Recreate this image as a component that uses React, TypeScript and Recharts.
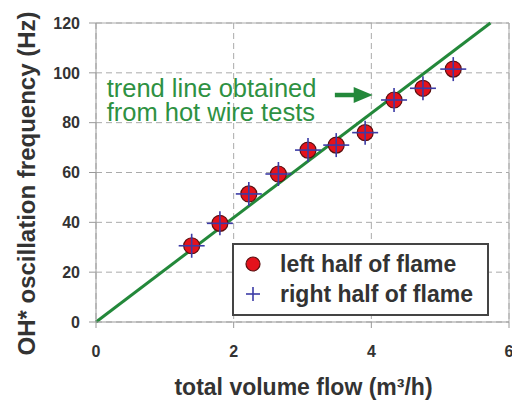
import React from 'react';
import {
    CartesianGrid,
    ReferenceDot,
    ReferenceLine,
    Scatter,
    ScatterChart,
    XAxis,
    YAxis,
} from 'recharts';

// flow in m³/h, frequency in Hz
const flowLeft = [1.39, 1.8, 2.22, 2.65, 3.08, 3.49, 3.91, 4.33, 4.75, 5.19];
const freqLeft = [30.6, 39.6, 51.4, 59.4, 69.0, 71.0, 76.0, 89.1, 93.8, 101.5];
const flowRight = [1.39, 1.8, 2.22, 2.65, 3.08, 3.49, 3.91, 4.33, 4.75, 5.19];
const freqRight = [30.6, 39.6, 51.4, 59.4, 69.0, 71.0, 76.0, 89.1, 93.8, 101.5];

// trend line from hot wire tests
const trendFlow = [0, 5.73];
const trendFreq = [0, 120];

const xTicks = [0, 2, 4, 6];
const yTicks = [0, 20, 40, 60, 80, 100, 120];

const seriesNames = ['left half of flame', 'right half of flame'];

// annotation anchor (data coords)
const noteAt = { x: 0.155, y: 90.3 };
const arrowFrom = { x: 3.47, y: 91.1 };
const arrowTip = { x: 4.02, y: 91.1 };

const leftData = flowLeft.map((x, i) => ({ x, y: freqLeft[i] }));
const rightData = flowRight.map((x, i) => ({ x, y: freqRight[i] }));

const FONT = '"Liberation Sans", Arial, Helvetica, sans-serif';
const TEXT = '#333';
const GREEN = '#23883a';
const RED = '#e4121c';
const BLUE = '#3b3ba6';

const Dot = (props: any) => (
    <circle cx={props.cx} cy={props.cy} r={8} fill={RED} stroke="#5a1010" strokeWidth={1.2} />
);

const Plus = (props: any) => {
    const { cx, cy } = props;
    return (
        <g stroke={BLUE} strokeWidth={1.6}>
            <line x1={cx - 13} y1={cy} x2={cx + 13} y2={cy} />
            <line x1={cx} y1={cy - 12} x2={cx} y2={cy + 12} />
        </g>
    );
};

function LegendBox() {
    return (
        <div
            style={{
                position: 'absolute',
                left: 232,
                top: 243,
                width: 257,
                height: 73,
                boxSizing: 'border-box',
                border: '2px solid #444',
                background: '#fff',
                paddingTop: 4,
            }}
        >
            {seriesNames.map((name, i) => (
                <div key={name} style={{ display: 'flex', alignItems: 'center', height: 30 }}>
                    <svg width={46} height={30} style={{ flex: 'none' }}>
                        {i === 0 ? (
                            <circle cx={19} cy={15} r={7} fill={RED} stroke="#5a1010" strokeWidth={1.2} />
                        ) : (
                            <g stroke={BLUE} strokeWidth={1.6}>
                                <line x1={12} y1={15} x2={26} y2={15} />
                                <line x1={19} y1={8} x2={19} y2={22} />
                            </g>
                        )}
                    </svg>
                    <span style={{ fontFamily: FONT, fontWeight: 'bold', fontSize: 23, color: TEXT, whiteSpace: 'nowrap' }}>
                        {name}
                    </span>
                </div>
            ))}
        </div>
    );
}

const YLabel = (props: any) => {
    const { x, y, height } = props.viewBox;
    const cx = x + 26;
    const cy = y + height / 2 + 11;
    return (
        <text
            x={cx}
            y={cy}
            transform={`rotate(-90 ${cx} ${cy})`}
            textAnchor="middle"
            dominantBaseline="central"
            fontFamily={FONT}
            fontWeight="bold"
            fontSize={24}
            fill={TEXT}
        >
            OH* oscillation frequency (Hz)
        </text>
    );
};

const XLabel = (props: any) => {
    const { x, y, width } = props.viewBox;
    return (
        <text
            x={x + width / 2 + 1}
            y={y + 73}
            textAnchor="middle"
            fontFamily={FONT}
            fontWeight="bold"
            fontSize={23}
            fill={TEXT}
        >
            total volume flow (m³/h)
        </text>
    );
};

const Note = (props: any) => (
    <text x={props.cx} y={props.cy} fontFamily={FONT} fontSize={25.5} fill="#2e9142">
        <tspan x={props.cx}>trend line obtained</tspan>
        <tspan x={props.cx} dy={24}>from hot wire tests</tspan>
    </text>
);

const ArrowHead = (props: any) => {
    const { cx, cy } = props;
    return <polygon points={`${cx},${cy} ${cx - 19},${cy - 8} ${cx - 19},${cy + 8}`} fill={GREEN} />;
};

const tickStyle = { fontFamily: FONT, fontWeight: 'bold' as const, fontSize: 16, fill: TEXT };

export default function App() {
    return (
        <div style={{ position: 'fixed', top: 0, left: 0, width: 512, height: 400, overflow: 'hidden', background: '#fff' }}>
            <ScatterChart width={540} height={400} margin={{ top: 23, right: 31, left: 0, bottom: 0 }}>
                <CartesianGrid stroke="#aaa" strokeDasharray="6 4" />
                <XAxis
                    type="number"
                    dataKey="x"
                    domain={[0, 6]}
                    ticks={xTicks}
                    height={78}
                    stroke="#999"
                    tickSize={6}
                    tickMargin={18}
                    tick={tickStyle}
                    label={<XLabel />}
                />
                <YAxis
                    type="number"
                    dataKey="y"
                    domain={[0, 120]}
                    ticks={yTicks}
                    width={96}
                    stroke="#999"
                    tickSize={7}
                    tickMargin={9}
                    tick={tickStyle}
                    label={<YLabel />}
                />
                <ReferenceLine y={120} stroke="#aaa" />
                <ReferenceLine x={6} stroke="#aaa" />
                <ReferenceLine
                    segment={[
                        { x: trendFlow[0], y: trendFreq[0] },
                        { x: trendFlow[1], y: trendFreq[1] },
                    ]}
                    stroke={GREEN}
                    strokeWidth={3}
                />
                <ReferenceLine segment={[arrowFrom, { x: arrowTip.x - 0.22, y: arrowTip.y }]} stroke={GREEN} strokeWidth={4.5} />
                <ReferenceDot x={arrowTip.x} y={arrowTip.y} r={0} shape={<ArrowHead />} />
                <ReferenceDot x={noteAt.x} y={noteAt.y} r={0} shape={<Note />} />
                <Scatter name={seriesNames[0]} data={leftData} shape={<Dot />} isAnimationActive={false} />
                <Scatter name={seriesNames[1]} data={rightData} shape={<Plus />} isAnimationActive={false} />
            </ScatterChart>
            <LegendBox />
        </div>
    );
}
